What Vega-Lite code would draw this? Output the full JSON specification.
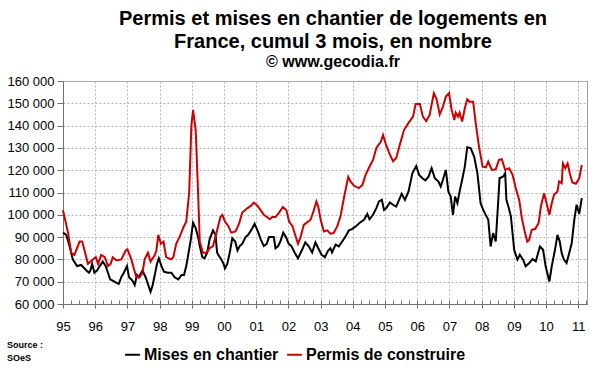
{
  "$schema": "https://vega.github.io/schema/vega-lite/v6.json",
  "width": 524,
  "height": 223,
  "autosize": {"type": "none"},
  "padding": {"left": 63, "top": 81, "right": 13, "bottom": 68},
  "background": "white",
  "config": {
    "font": "Liberation Sans",
    "view": {"stroke": "#a0a0a0", "strokeWidth": 1}
  },
  "title": {
    "text": ["Permis et mises en chantier de logements en", "France, cumul 3 mois, en nombre"],
    "subtitle": "© www.gecodia.fr",
    "fontSize": 20,
    "fontWeight": "bold",
    "lineHeight": 23,
    "color": "black",
    "subtitleFontSize": 16,
    "subtitleFontWeight": "bold",
    "subtitleColor": "black",
    "subtitlePadding": 2,
    "anchor": "middle",
    "dx": 8,
    "offset": 5
  },
  "data": {
    "values": [
      {"d": "1995-01-01", "s": "Permis de construire", "v": 102000},
      {"d": "1995-02-27", "s": "Permis de construire", "v": 92000},
      {"d": "1995-04-04", "s": "Permis de construire", "v": 83000},
      {"d": "1995-05-10", "s": "Permis de construire", "v": 82000},
      {"d": "1995-07-08", "s": "Permis de construire", "v": 88000},
      {"d": "1995-08-07", "s": "Permis de construire", "v": 88000},
      {"d": "1995-10-11", "s": "Permis de construire", "v": 78000},
      {"d": "1995-12-05", "s": "Permis de construire", "v": 80000},
      {"d": "1996-01-08", "s": "Permis de construire", "v": 81000},
      {"d": "1996-02-03", "s": "Permis de construire", "v": 78000},
      {"d": "1996-03-09", "s": "Permis de construire", "v": 82000},
      {"d": "1996-04-19", "s": "Permis de construire", "v": 81000},
      {"d": "1996-05-25", "s": "Permis de construire", "v": 77000},
      {"d": "1996-06-24", "s": "Permis de construire", "v": 78000},
      {"d": "1996-07-19", "s": "Permis de construire", "v": 81000},
      {"d": "1996-08-29", "s": "Permis de construire", "v": 79500},
      {"d": "1996-10-23", "s": "Permis de construire", "v": 80000},
      {"d": "1996-12-13", "s": "Permis de construire", "v": 84000},
      {"d": "1997-01-01", "s": "Permis de construire", "v": 84500},
      {"d": "1997-02-14", "s": "Permis de construire", "v": 80000},
      {"d": "1997-03-06", "s": "Permis de construire", "v": 77000},
      {"d": "1997-04-12", "s": "Permis de construire", "v": 72000},
      {"d": "1997-05-18", "s": "Permis de construire", "v": 72000},
      {"d": "1997-06-20", "s": "Permis de construire", "v": 74000},
      {"d": "1997-07-15", "s": "Permis de construire", "v": 80000},
      {"d": "1997-08-21", "s": "Permis de construire", "v": 83000},
      {"d": "1997-09-20", "s": "Permis de construire", "v": 79000},
      {"d": "1997-11-07", "s": "Permis de construire", "v": 82000},
      {"d": "1997-11-25", "s": "Permis de construire", "v": 84000},
      {"d": "1997-12-17", "s": "Permis de construire", "v": 91000},
      {"d": "1998-01-15", "s": "Permis de construire", "v": 87000},
      {"d": "1998-02-14", "s": "Permis de construire", "v": 88000},
      {"d": "1998-03-16", "s": "Permis de construire", "v": 81000},
      {"d": "1998-05-10", "s": "Permis de construire", "v": 80000},
      {"d": "1998-06-05", "s": "Permis de construire", "v": 81000},
      {"d": "1998-07-08", "s": "Permis de construire", "v": 87000},
      {"d": "1998-08-14", "s": "Permis de construire", "v": 90000},
      {"d": "1998-09-24", "s": "Permis de construire", "v": 94000},
      {"d": "1998-10-30", "s": "Permis de construire", "v": 97000},
      {"d": "1998-12-02", "s": "Permis de construire", "v": 110000},
      {"d": "1998-12-27", "s": "Permis de construire", "v": 140000},
      {"d": "1999-01-15", "s": "Permis de construire", "v": 147000},
      {"d": "1999-02-14", "s": "Permis de construire", "v": 138000},
      {"d": "1999-03-13", "s": "Permis de construire", "v": 110000},
      {"d": "1999-04-01", "s": "Permis de construire", "v": 88000},
      {"d": "1999-05-07", "s": "Permis de construire", "v": 83000},
      {"d": "1999-06-16", "s": "Permis de construire", "v": 83000},
      {"d": "1999-07-22", "s": "Permis de construire", "v": 85000},
      {"d": "1999-08-29", "s": "Permis de construire", "v": 86000},
      {"d": "1999-10-08", "s": "Permis de construire", "v": 92000},
      {"d": "1999-11-21", "s": "Permis de construire", "v": 99000},
      {"d": "1999-12-13", "s": "Permis de construire", "v": 100000},
      {"d": "2000-01-12", "s": "Permis de construire", "v": 97000},
      {"d": "2000-02-18", "s": "Permis de construire", "v": 95000},
      {"d": "2000-03-24", "s": "Permis de construire", "v": 92000},
      {"d": "2000-05-10", "s": "Permis de construire", "v": 92500},
      {"d": "2000-06-20", "s": "Permis de construire", "v": 96000},
      {"d": "2000-07-26", "s": "Permis de construire", "v": 101000},
      {"d": "2000-09-24", "s": "Permis de construire", "v": 103000},
      {"d": "2000-10-30", "s": "Permis de construire", "v": 104000},
      {"d": "2000-12-05", "s": "Permis de construire", "v": 105500},
      {"d": "2001-01-15", "s": "Permis de construire", "v": 104000},
      {"d": "2001-02-21", "s": "Permis de construire", "v": 102000},
      {"d": "2001-03-27", "s": "Permis de construire", "v": 100000},
      {"d": "2001-05-03", "s": "Permis de construire", "v": 99000},
      {"d": "2001-06-02", "s": "Permis de construire", "v": 98000},
      {"d": "2001-07-01", "s": "Permis de construire", "v": 99000},
      {"d": "2001-08-07", "s": "Permis de construire", "v": 99000},
      {"d": "2001-09-16", "s": "Permis de construire", "v": 101000},
      {"d": "2001-10-30", "s": "Permis de construire", "v": 103500},
      {"d": "2001-12-09", "s": "Permis de construire", "v": 102000},
      {"d": "2002-01-08", "s": "Permis de construire", "v": 97000},
      {"d": "2002-02-14", "s": "Permis de construire", "v": 95000},
      {"d": "2002-04-19", "s": "Permis de construire", "v": 87000},
      {"d": "2002-05-18", "s": "Permis de construire", "v": 90000},
      {"d": "2002-06-24", "s": "Permis de construire", "v": 95500},
      {"d": "2002-08-03", "s": "Permis de construire", "v": 96700},
      {"d": "2002-09-09", "s": "Permis de construire", "v": 97800},
      {"d": "2002-10-15", "s": "Permis de construire", "v": 102000},
      {"d": "2002-11-14", "s": "Permis de construire", "v": 106000},
      {"d": "2002-12-05", "s": "Permis de construire", "v": 103700},
      {"d": "2003-01-01", "s": "Permis de construire", "v": 97800},
      {"d": "2003-02-07", "s": "Permis de construire", "v": 92500},
      {"d": "2003-03-16", "s": "Permis de construire", "v": 93000},
      {"d": "2003-04-22", "s": "Permis de construire", "v": 91500},
      {"d": "2003-05-28", "s": "Permis de construire", "v": 91800},
      {"d": "2003-07-08", "s": "Permis de construire", "v": 94800},
      {"d": "2003-08-14", "s": "Permis de construire", "v": 99300},
      {"d": "2003-09-24", "s": "Permis de construire", "v": 108000},
      {"d": "2003-11-10", "s": "Permis de construire", "v": 117000},
      {"d": "2003-12-05", "s": "Permis de construire", "v": 115000},
      {"d": "2004-01-15", "s": "Permis de construire", "v": 113000},
      {"d": "2004-03-09", "s": "Permis de construire", "v": 112000},
      {"d": "2004-04-19", "s": "Permis de construire", "v": 113400},
      {"d": "2004-05-25", "s": "Permis de construire", "v": 118000},
      {"d": "2004-07-01", "s": "Permis de construire", "v": 121000},
      {"d": "2004-08-17", "s": "Permis de construire", "v": 124600},
      {"d": "2004-09-24", "s": "Permis de construire", "v": 130000},
      {"d": "2004-11-14", "s": "Permis de construire", "v": 132800},
      {"d": "2004-12-09", "s": "Permis de construire", "v": 135800},
      {"d": "2005-01-15", "s": "Permis de construire", "v": 131000},
      {"d": "2005-02-25", "s": "Permis de construire", "v": 127000},
      {"d": "2005-04-01", "s": "Permis de construire", "v": 124000},
      {"d": "2005-05-07", "s": "Permis de construire", "v": 125500},
      {"d": "2005-06-16", "s": "Permis de construire", "v": 131300},
      {"d": "2005-08-03", "s": "Permis de construire", "v": 138000},
      {"d": "2005-09-20", "s": "Permis de construire", "v": 141000},
      {"d": "2005-11-14", "s": "Permis de construire", "v": 144000},
      {"d": "2005-12-13", "s": "Permis de construire", "v": 149700},
      {"d": "2006-01-30", "s": "Permis de construire", "v": 149700},
      {"d": "2006-03-06", "s": "Permis de construire", "v": 144000},
      {"d": "2006-04-12", "s": "Permis de construire", "v": 142000},
      {"d": "2006-05-21", "s": "Permis de construire", "v": 144800},
      {"d": "2006-07-08", "s": "Permis de construire", "v": 154500},
      {"d": "2006-08-07", "s": "Permis de construire", "v": 152000},
      {"d": "2006-09-13", "s": "Permis de construire", "v": 145000},
      {"d": "2006-10-19", "s": "Permis de construire", "v": 148500},
      {"d": "2006-11-21", "s": "Permis de construire", "v": 153000},
      {"d": "2006-12-27", "s": "Permis de construire", "v": 154500},
      {"d": "2007-01-26", "s": "Permis de construire", "v": 147000},
      {"d": "2007-02-25", "s": "Permis de construire", "v": 142500},
      {"d": "2007-03-13", "s": "Permis de construire", "v": 145800},
      {"d": "2007-04-08", "s": "Permis de construire", "v": 144000},
      {"d": "2007-04-26", "s": "Permis de construire", "v": 145800},
      {"d": "2007-05-25", "s": "Permis de construire", "v": 141800},
      {"d": "2007-06-24", "s": "Permis de construire", "v": 147800},
      {"d": "2007-07-22", "s": "Permis de construire", "v": 151800},
      {"d": "2007-08-17", "s": "Permis de construire", "v": 150700},
      {"d": "2007-09-27", "s": "Permis de construire", "v": 150700},
      {"d": "2007-10-26", "s": "Permis de construire", "v": 141000},
      {"d": "2007-12-02", "s": "Permis de construire", "v": 130600},
      {"d": "2008-01-12", "s": "Permis de construire", "v": 121600},
      {"d": "2008-02-18", "s": "Permis de construire", "v": 121300},
      {"d": "2008-03-16", "s": "Permis de construire", "v": 123900},
      {"d": "2008-04-26", "s": "Permis de construire", "v": 120100},
      {"d": "2008-06-09", "s": "Permis de construire", "v": 120400},
      {"d": "2008-07-15", "s": "Permis de construire", "v": 124600},
      {"d": "2008-08-17", "s": "Permis de construire", "v": 124900},
      {"d": "2008-09-24", "s": "Permis de construire", "v": 120100},
      {"d": "2008-11-07", "s": "Permis de construire", "v": 120900},
      {"d": "2008-12-17", "s": "Permis de construire", "v": 117900},
      {"d": "2009-01-22", "s": "Permis de construire", "v": 112000},
      {"d": "2009-03-02", "s": "Permis de construire", "v": 106700},
      {"d": "2009-04-01", "s": "Permis de construire", "v": 98500},
      {"d": "2009-05-07", "s": "Permis de construire", "v": 91800},
      {"d": "2009-06-02", "s": "Permis de construire", "v": 88000},
      {"d": "2009-06-24", "s": "Permis de construire", "v": 88800},
      {"d": "2009-07-22", "s": "Permis de construire", "v": 93300},
      {"d": "2009-08-29", "s": "Permis de construire", "v": 93600},
      {"d": "2009-10-08", "s": "Permis de construire", "v": 96300},
      {"d": "2009-11-03", "s": "Permis de construire", "v": 103700},
      {"d": "2009-12-09", "s": "Permis de construire", "v": 109700},
      {"d": "2010-01-08", "s": "Permis de construire", "v": 105000},
      {"d": "2010-02-07", "s": "Permis de construire", "v": 100000},
      {"d": "2010-03-06", "s": "Permis de construire", "v": 105200},
      {"d": "2010-04-01", "s": "Permis de construire", "v": 109000},
      {"d": "2010-05-10", "s": "Permis de construire", "v": 110400},
      {"d": "2010-05-28", "s": "Permis de construire", "v": 115000},
      {"d": "2010-06-27", "s": "Permis de construire", "v": 114200},
      {"d": "2010-07-11", "s": "Permis de construire", "v": 123000},
      {"d": "2010-08-07", "s": "Permis de construire", "v": 120900},
      {"d": "2010-09-02", "s": "Permis de construire", "v": 123000},
      {"d": "2010-09-27", "s": "Permis de construire", "v": 118600},
      {"d": "2010-10-26", "s": "Permis de construire", "v": 114500},
      {"d": "2010-12-05", "s": "Permis de construire", "v": 113900},
      {"d": "2011-01-12", "s": "Permis de construire", "v": 116400},
      {"d": "2011-02-10", "s": "Permis de construire", "v": 122400},

      {"d": "1995-01-01", "s": "Mises en chantier", "v": 92000},
      {"d": "1995-02-07", "s": "Mises en chantier", "v": 91000},
      {"d": "1995-03-16", "s": "Mises en chantier", "v": 86000},
      {"d": "1995-04-22", "s": "Mises en chantier", "v": 80000},
      {"d": "1995-06-09", "s": "Mises en chantier", "v": 77000},
      {"d": "1995-07-26", "s": "Mises en chantier", "v": 77500},
      {"d": "1995-09-24", "s": "Mises en chantier", "v": 75000},
      {"d": "1995-10-23", "s": "Mises en chantier", "v": 74000},
      {"d": "1995-11-07", "s": "Mises en chantier", "v": 75000},
      {"d": "1995-11-28", "s": "Mises en chantier", "v": 78000},
      {"d": "1995-12-23", "s": "Mises en chantier", "v": 74000},
      {"d": "1996-01-22", "s": "Mises en chantier", "v": 75000},
      {"d": "1996-02-21", "s": "Mises en chantier", "v": 77000},
      {"d": "1996-03-27", "s": "Mises en chantier", "v": 79000},
      {"d": "1996-04-30", "s": "Mises en chantier", "v": 77000},
      {"d": "1996-05-25", "s": "Mises en chantier", "v": 74000},
      {"d": "1996-06-20", "s": "Mises en chantier", "v": 71000},
      {"d": "1996-07-19", "s": "Mises en chantier", "v": 70500},
      {"d": "1996-08-29", "s": "Mises en chantier", "v": 69500},
      {"d": "1996-09-24", "s": "Mises en chantier", "v": 69000},
      {"d": "1996-10-23", "s": "Mises en chantier", "v": 72000},
      {"d": "1996-11-21", "s": "Mises en chantier", "v": 74000},
      {"d": "1996-12-27", "s": "Mises en chantier", "v": 77000},
      {"d": "1997-01-19", "s": "Mises en chantier", "v": 72000},
      {"d": "1997-02-14", "s": "Mises en chantier", "v": 71000},
      {"d": "1997-03-06", "s": "Mises en chantier", "v": 70000},
      {"d": "1997-03-24", "s": "Mises en chantier", "v": 68500},
      {"d": "1997-04-19", "s": "Mises en chantier", "v": 73000},
      {"d": "1997-05-10", "s": "Mises en chantier", "v": 72000},
      {"d": "1997-06-20", "s": "Mises en chantier", "v": 75000},
      {"d": "1997-07-26", "s": "Mises en chantier", "v": 72000},
      {"d": "1997-08-21", "s": "Mises en chantier", "v": 69000},
      {"d": "1997-09-20", "s": "Mises en chantier", "v": 65500},
      {"d": "1997-10-11", "s": "Mises en chantier", "v": 68000},
      {"d": "1997-11-07", "s": "Mises en chantier", "v": 73000},
      {"d": "1997-12-02", "s": "Mises en chantier", "v": 78000},
      {"d": "1997-12-23", "s": "Mises en chantier", "v": 80500},
      {"d": "1998-01-22", "s": "Mises en chantier", "v": 77000},
      {"d": "1998-02-18", "s": "Mises en chantier", "v": 74500},
      {"d": "1998-04-04", "s": "Mises en chantier", "v": 74000},
      {"d": "1998-05-14", "s": "Mises en chantier", "v": 74000},
      {"d": "1998-06-20", "s": "Mises en chantier", "v": 72000},
      {"d": "1998-08-01", "s": "Mises en chantier", "v": 71000},
      {"d": "1998-09-06", "s": "Mises en chantier", "v": 73000},
      {"d": "1998-10-04", "s": "Mises en chantier", "v": 73000},
      {"d": "1998-10-30", "s": "Mises en chantier", "v": 77000},
      {"d": "1998-11-21", "s": "Mises en chantier", "v": 82000},
      {"d": "1998-12-17", "s": "Mises en chantier", "v": 88000},
      {"d": "1999-01-15", "s": "Mises en chantier", "v": 96500},
      {"d": "1999-02-14", "s": "Mises en chantier", "v": 94000},
      {"d": "1999-03-13", "s": "Mises en chantier", "v": 90000},
      {"d": "1999-04-01", "s": "Mises en chantier", "v": 86000},
      {"d": "1999-04-30", "s": "Mises en chantier", "v": 81000},
      {"d": "1999-05-25", "s": "Mises en chantier", "v": 80500},
      {"d": "1999-06-24", "s": "Mises en chantier", "v": 83000},
      {"d": "1999-07-22", "s": "Mises en chantier", "v": 89000},
      {"d": "1999-08-29", "s": "Mises en chantier", "v": 93000},
      {"d": "1999-09-27", "s": "Mises en chantier", "v": 91000},
      {"d": "1999-10-15", "s": "Mises en chantier", "v": 83000},
      {"d": "1999-11-14", "s": "Mises en chantier", "v": 81000},
      {"d": "1999-12-02", "s": "Mises en chantier", "v": 80000},
      {"d": "1999-12-27", "s": "Mises en chantier", "v": 78000},
      {"d": "2000-01-12", "s": "Mises en chantier", "v": 76000},
      {"d": "2000-02-07", "s": "Mises en chantier", "v": 78000},
      {"d": "2000-03-06", "s": "Mises en chantier", "v": 83000},
      {"d": "2000-04-04", "s": "Mises en chantier", "v": 89500},
      {"d": "2000-05-07", "s": "Mises en chantier", "v": 88000},
      {"d": "2000-06-02", "s": "Mises en chantier", "v": 84000},
      {"d": "2000-06-27", "s": "Mises en chantier", "v": 86000},
      {"d": "2000-07-26", "s": "Mises en chantier", "v": 87000},
      {"d": "2000-09-02", "s": "Mises en chantier", "v": 90000},
      {"d": "2000-10-01", "s": "Mises en chantier", "v": 91000},
      {"d": "2000-11-03", "s": "Mises en chantier", "v": 93000},
      {"d": "2000-12-13", "s": "Mises en chantier", "v": 96000},
      {"d": "2001-01-15", "s": "Mises en chantier", "v": 93000},
      {"d": "2001-02-21", "s": "Mises en chantier", "v": 89000},
      {"d": "2001-03-27", "s": "Mises en chantier", "v": 86000},
      {"d": "2001-04-30", "s": "Mises en chantier", "v": 87000},
      {"d": "2001-05-25", "s": "Mises en chantier", "v": 90000},
      {"d": "2001-06-24", "s": "Mises en chantier", "v": 90000},
      {"d": "2001-07-19", "s": "Mises en chantier", "v": 90000},
      {"d": "2001-08-07", "s": "Mises en chantier", "v": 85000},
      {"d": "2001-09-06", "s": "Mises en chantier", "v": 86000},
      {"d": "2001-10-01", "s": "Mises en chantier", "v": 88000},
      {"d": "2001-11-03", "s": "Mises en chantier", "v": 92000},
      {"d": "2001-12-05", "s": "Mises en chantier", "v": 90000},
      {"d": "2002-01-04", "s": "Mises en chantier", "v": 87000},
      {"d": "2002-02-03", "s": "Mises en chantier", "v": 86000},
      {"d": "2002-03-13", "s": "Mises en chantier", "v": 83000},
      {"d": "2002-04-19", "s": "Mises en chantier", "v": 80500},
      {"d": "2002-06-05", "s": "Mises en chantier", "v": 84300},
      {"d": "2002-07-11", "s": "Mises en chantier", "v": 87600},
      {"d": "2002-08-21", "s": "Mises en chantier", "v": 85800},
      {"d": "2002-09-27", "s": "Mises en chantier", "v": 83100},
      {"d": "2002-11-03", "s": "Mises en chantier", "v": 87600},
      {"d": "2002-12-05", "s": "Mises en chantier", "v": 85000},
      {"d": "2003-01-12", "s": "Mises en chantier", "v": 82000},
      {"d": "2003-02-18", "s": "Mises en chantier", "v": 81000},
      {"d": "2003-03-27", "s": "Mises en chantier", "v": 84000},
      {"d": "2003-04-22", "s": "Mises en chantier", "v": 85000},
      {"d": "2003-05-10", "s": "Mises en chantier", "v": 83100},
      {"d": "2003-06-20", "s": "Mises en chantier", "v": 86600},
      {"d": "2003-07-26", "s": "Mises en chantier", "v": 85800},
      {"d": "2003-09-02", "s": "Mises en chantier", "v": 88000},
      {"d": "2003-10-11", "s": "Mises en chantier", "v": 90300},
      {"d": "2003-11-17", "s": "Mises en chantier", "v": 93000},
      {"d": "2003-12-23", "s": "Mises en chantier", "v": 93600},
      {"d": "2004-02-03", "s": "Mises en chantier", "v": 94800},
      {"d": "2004-03-16", "s": "Mises en chantier", "v": 96300},
      {"d": "2004-05-07", "s": "Mises en chantier", "v": 97800},
      {"d": "2004-06-13", "s": "Mises en chantier", "v": 100400},
      {"d": "2004-07-08", "s": "Mises en chantier", "v": 98000},
      {"d": "2004-08-17", "s": "Mises en chantier", "v": 100000},
      {"d": "2004-09-24", "s": "Mises en chantier", "v": 103000},
      {"d": "2004-10-23", "s": "Mises en chantier", "v": 106000},
      {"d": "2004-11-25", "s": "Mises en chantier", "v": 106700},
      {"d": "2004-12-20", "s": "Mises en chantier", "v": 102200},
      {"d": "2005-01-15", "s": "Mises en chantier", "v": 103000},
      {"d": "2005-02-25", "s": "Mises en chantier", "v": 105500},
      {"d": "2005-04-01", "s": "Mises en chantier", "v": 104500},
      {"d": "2005-05-07", "s": "Mises en chantier", "v": 103700},
      {"d": "2005-06-09", "s": "Mises en chantier", "v": 106700},
      {"d": "2005-07-08", "s": "Mises en chantier", "v": 109400},
      {"d": "2005-08-14", "s": "Mises en chantier", "v": 106700},
      {"d": "2005-09-24", "s": "Mises en chantier", "v": 110500},
      {"d": "2005-11-07", "s": "Mises en chantier", "v": 118700},
      {"d": "2005-12-20", "s": "Mises en chantier", "v": 121900},
      {"d": "2006-01-22", "s": "Mises en chantier", "v": 117900},
      {"d": "2006-02-28", "s": "Mises en chantier", "v": 116400},
      {"d": "2006-04-04", "s": "Mises en chantier", "v": 115400},
      {"d": "2006-05-10", "s": "Mises en chantier", "v": 117200},
      {"d": "2006-06-13", "s": "Mises en chantier", "v": 120900},
      {"d": "2006-07-19", "s": "Mises en chantier", "v": 116400},
      {"d": "2006-08-29", "s": "Mises en chantier", "v": 114900},
      {"d": "2006-09-24", "s": "Mises en chantier", "v": 112700},
      {"d": "2006-10-19", "s": "Mises en chantier", "v": 115700},
      {"d": "2006-11-21", "s": "Mises en chantier", "v": 120100},
      {"d": "2006-12-20", "s": "Mises en chantier", "v": 110400},
      {"d": "2007-01-15", "s": "Mises en chantier", "v": 108200},
      {"d": "2007-02-10", "s": "Mises en chantier", "v": 100000},
      {"d": "2007-03-06", "s": "Mises en chantier", "v": 108200},
      {"d": "2007-04-01", "s": "Mises en chantier", "v": 105200},
      {"d": "2007-04-26", "s": "Mises en chantier", "v": 110400},
      {"d": "2007-05-25", "s": "Mises en chantier", "v": 115700},
      {"d": "2007-06-24", "s": "Mises en chantier", "v": 121600},
      {"d": "2007-07-22", "s": "Mises en chantier", "v": 130300},
      {"d": "2007-08-29", "s": "Mises en chantier", "v": 129900},
      {"d": "2007-10-08", "s": "Mises en chantier", "v": 126100},
      {"d": "2007-11-14", "s": "Mises en chantier", "v": 118700},
      {"d": "2007-12-20", "s": "Mises en chantier", "v": 105200},
      {"d": "2008-01-19", "s": "Mises en chantier", "v": 102200},
      {"d": "2008-02-25", "s": "Mises en chantier", "v": 99300},
      {"d": "2008-03-16", "s": "Mises en chantier", "v": 97800},
      {"d": "2008-04-12", "s": "Mises en chantier", "v": 85800},
      {"d": "2008-05-10", "s": "Mises en chantier", "v": 91800},
      {"d": "2008-06-09", "s": "Mises en chantier", "v": 88000},
      {"d": "2008-07-08", "s": "Mises en chantier", "v": 106700},
      {"d": "2008-07-22", "s": "Mises en chantier", "v": 116400},
      {"d": "2008-09-02", "s": "Mises en chantier", "v": 117200},
      {"d": "2008-09-24", "s": "Mises en chantier", "v": 118700},
      {"d": "2008-10-08", "s": "Mises en chantier", "v": 106700},
      {"d": "2008-10-30", "s": "Mises en chantier", "v": 103700},
      {"d": "2008-11-28", "s": "Mises en chantier", "v": 99300},
      {"d": "2009-01-04", "s": "Mises en chantier", "v": 84300},
      {"d": "2009-02-10", "s": "Mises en chantier", "v": 79900},
      {"d": "2009-03-09", "s": "Mises en chantier", "v": 82100},
      {"d": "2009-04-15", "s": "Mises en chantier", "v": 79900},
      {"d": "2009-05-14", "s": "Mises en chantier", "v": 76900},
      {"d": "2009-06-24", "s": "Mises en chantier", "v": 78400},
      {"d": "2009-08-01", "s": "Mises en chantier", "v": 80100},
      {"d": "2009-09-06", "s": "Mises en chantier", "v": 79100},
      {"d": "2009-10-23", "s": "Mises en chantier", "v": 85800},
      {"d": "2009-11-28", "s": "Mises en chantier", "v": 84300},
      {"d": "2009-12-27", "s": "Mises en chantier", "v": 76900},
      {"d": "2010-02-07", "s": "Mises en chantier", "v": 70100},
      {"d": "2010-03-06", "s": "Mises en chantier", "v": 76900},
      {"d": "2010-04-12", "s": "Mises en chantier", "v": 84300},
      {"d": "2010-05-10", "s": "Mises en chantier", "v": 91000},
      {"d": "2010-06-05", "s": "Mises en chantier", "v": 88000},
      {"d": "2010-06-27", "s": "Mises en chantier", "v": 82800},
      {"d": "2010-07-22", "s": "Mises en chantier", "v": 79900},
      {"d": "2010-08-21", "s": "Mises en chantier", "v": 78400},
      {"d": "2010-09-20", "s": "Mises en chantier", "v": 82800},
      {"d": "2010-10-19", "s": "Mises en chantier", "v": 87300},
      {"d": "2010-11-17", "s": "Mises en chantier", "v": 97800},
      {"d": "2010-12-13", "s": "Mises en chantier", "v": 104500},
      {"d": "2011-01-12", "s": "Mises en chantier", "v": 100400},
      {"d": "2011-02-10", "s": "Mises en chantier", "v": 107500}
    ]
  },
  "encoding": {
    "y": {
      "field": "v",
      "type": "quantitative",
      "scale": {"domain": [60000, 160000], "nice": false, "zero": false},
      "axis": {
        "title": null,
        "values": [60000, 70000, 80000, 90000, 100000, 110000, 120000, 130000, 140000, 150000, 160000],
        "labelExpr": "replace(format(datum.value, ','), ',', ' ')",
        "grid": true,
        "gridDash": [2, 2],
        "gridColor": "#b4b4b4",
        "domainColor": "#707070",
        "tickColor": "#707070",
        "tickSize": 6,
        "labelPadding": 3,
        "labelFontSize": 13,
        "labelColor": "black"
      }
    },
    "color": {
      "field": "s",
      "type": "nominal",
      "scale": {"domain": ["Mises en chantier", "Permis de construire"], "range": ["#000000", "#cc0000"]},
      "legend": {
        "orient": "none",
        "legendX": -56,
        "legendY": 265,
        "direction": "horizontal",
        "title": ["Source :", "SOeS"],
        "titleOrient": "left",
        "titleAnchor": "end",
        "titleFontSize": 9,
        "titleFontWeight": "bold",
        "titleLineHeight": 13,
        "titlePadding": 80,
        "titleColor": "black",
        "labelFontSize": 16,
        "labelFontWeight": "bold",
        "labelColor": "black",
        "labelLimit": 300,
        "labelOffset": 3,
        "columnPadding": 4,
        "symbolType": "stroke",
        "symbolStrokeWidth": 2,
        "symbolSize": 220
      }
    }
  },
  "layer": [
    {
      "transform": [{"filter": "datum.s === 'Mises en chantier'"}],
      "mark": {"type": "line", "strokeWidth": 2},
      "encoding": {
        "x": {
          "field": "d",
          "type": "temporal",
          "scale": {"type": "utc", "domain": ["1995-01-01", "2011-04-10"]},
          "axis": {
            "orient": "bottom",
            "title": null,
            "format": "%y",
            "tickCount": {"interval": "year", "step": 1},
            "grid": true,
            "gridDash": [2, 2],
            "gridColor": "#b4b4b4",
            "domainColor": "#707070",
            "tickColor": "#707070",
            "tickSize": 4,
            "labelPadding": 12,
            "labelFontSize": 13,
            "labelColor": "black",
            "labelFlush": false,
            "labelOverlap": false
          }
        }
      }
    },
    {
      "transform": [{"filter": "datum.s === 'Permis de construire'"}],
      "mark": {"type": "line", "strokeWidth": 2},
      "encoding": {
        "x": {
          "field": "d",
          "type": "temporal",
          "scale": {"type": "utc", "domain": ["1995-01-01", "2011-04-10"]},
          "axis": {
            "orient": "bottom",
            "title": null,
            "labels": false,
            "grid": false,
            "domain": false,
            "tickCount": {"interval": "month", "step": 3},
            "tickColor": "#707070",
            "tickSize": -4
          }
        }
      }
    }
  ],
  "resolve": {"axis": {"x": "independent"}}
}
